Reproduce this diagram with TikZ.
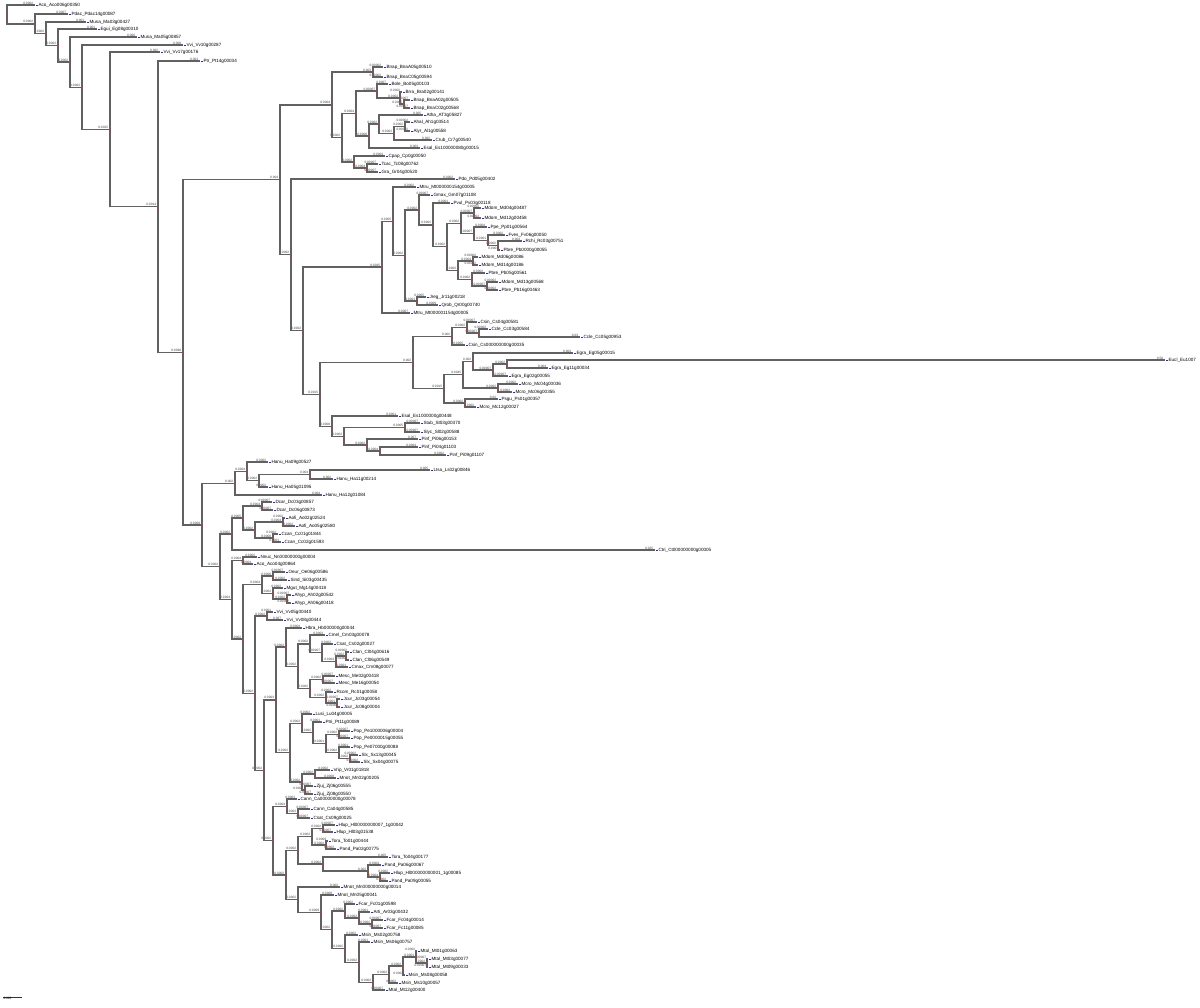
\documentclass[tikz,border=0pt]{standalone}
\usepackage{fontspec}
\setmainfont{Liberation Sans}
\usetikzlibrary{calc}
\definecolor{tipblue}{RGB}{40,40,200}
\definecolor{suppred}{RGB}{215,45,45}

\tikzset{
  twig/.style={draw=black!62, line width=1.25pt},
  leaflab/.style={anchor=west, inner sep=0pt, xshift=0.8pt, font=\fontsize{4.6}{5}\selectfont},
  blen/.style={anchor=south east, inner sep=0.2pt, xshift=-1.5pt, yshift=0.5pt, font=\fontsize{3.2}{3.4}\selectfont, text=black!75},
  scalelab/.style={anchor=north west, inner sep=0.3pt, font=\fontsize{3.2}{3.4}\selectfont},
}

% leaf: name, x, y, branch length, label
\newcommand\leaf[5]{%
  \coordinate (#1) at (#2,#3);
  \node[leaflab] (#1-t) at (#1) {\textcolor{tipblue}{\rule{1.8pt}{1.6pt}}\,#5};
  \node[blen] (#1-l) at (#1) {#4};}
% inner node: name, x, first child, last child, branch length
\newcommand\inode[5]{%
  \coordinate (#1-m) at ($(#3)!.5!(#4)$);
  \coordinate (#1) at (#2,0 |- #1-m);
  \draw[twig] (#3) -| (#1) |- (#4);
  \node[blen] (#1-l) at (#1) {#5};
  \fill[suppred] (#1) ++(-0.5,0.8) rectangle ++(1.2,1.8);}

\begin{document}
\begin{tikzpicture}[x=1pt, y=-1pt]
\useasboundingbox (0,0) rectangle (1200,1008);

% outgroups
\leaf{t1}{35}{5}{0.0002}{Aco\_Aco006g00350}
\leaf{t2}{68}{14}{0.0007}{Pdac\_Pdac14g00087}
\leaf{t3}{86}{22}{0.001}{Musa\_Ma03g00427}
\leaf{t4}{97}{29}{0.001}{Egui\_Eg08g00310}
\leaf{t5}{137}{37}{0.006}{Musa\_Ma05g00857}
\leaf{t6}{183}{45}{0.008}{Vvi\_Vv10g00287}
\leaf{t7}{160}{52}{0.002}{Vvi\_Vv17g00176}
\leaf{t8}{200}{61}{0.003}{Ptr\_Pt14g00034}

% clade 1
\leaf{t9}{383}{67}{0.00002}{Bnap\_BnaA05g00510}
\leaf{t10}{383}{77}{0.00002}{Bnap\_BnaC05g00594}
\leaf{t11}{388}{84}{0.0007}{Bole\_Bo05g00103}
\leaf{t12}{402}{92}{0.0002}{Brra\_Bra02g00141}
\leaf{t13}{410}{100}{0.00007}{Bnap\_BnaA02g00505}
\leaf{t14}{410}{108}{0.00007}{Bnap\_BnaC02g00568}
\leaf{t15}{423}{115}{0.005}{Atha\_AT3g05827}
\leaf{t16}{410}{122}{0.00002}{Ahal\_Ah1g03514}
\leaf{t17}{410}{131}{0.00002}{Alyr\_Al1g00558}
\leaf{t18}{432}{140}{0.002}{Crub\_Cr7g00540}
\leaf{t19}{420}{148}{0.003}{Esal\_Es100000080g00015}
\leaf{t20}{385}{156}{0.0004}{Cpap\_Cp0g00050}
\leaf{t21}{378}{164}{0.00007}{Tcac\_Tc08g00762}
\leaf{t22}{378}{172}{0.00007}{Gra\_Gr04g00520}

% clade 2
\leaf{t23}{455}{179}{0.0002}{Pdo\_Pd05g00402}
\leaf{t24}{416}{187}{0.0002}{Mtru\_Mt000000154g00005}
\leaf{t25}{430}{195}{0.00007}{Gmax\_Gm07g01108}
\leaf{t26}{450}{203}{0.0001}{Pvul\_Pv03g00118}
\leaf{t27}{481}{208}{0.00002}{Mdom\_Md04g00487}
\leaf{t28}{481}{218}{0.00002}{Mdom\_Md12g00458}
\leaf{t29}{487}{227}{0.0004}{Ppe\_Pp01g00564}
\leaf{t30}{505}{235}{0.0002}{Fves\_Fv06g00050}
\leaf{t31}{522}{241}{0.004}{Rchi\_Rc03g00751}
\leaf{t32}{500}{250}{0.0001}{Pbre\_Pb0000g00055}
\leaf{t33}{478}{257}{0.00002}{Mdom\_Md06g00086}
\leaf{t34}{478}{265}{0.00002}{Mdom\_Md14g00186}
\leaf{t35}{485}{273}{0.0002}{Pbre\_Pb05g00561}
\leaf{t36}{498}{282}{0.00002}{Mdom\_Md13g00568}
\leaf{t37}{498}{290}{0.00002}{Pbre\_Pb16g00463}
\leaf{t38}{426}{297}{0.0005}{Jreg\_Jr11g00218}
\leaf{t39}{438}{305}{0.0009}{Qrob\_Qr00g00740}
\leaf{t40}{410}{313}{0.0007}{Mtru\_Mt000001154g00005}
\leaf{t41}{477}{322}{0.00007}{Csin\_Cs04g00581}
\leaf{t42}{488}{329}{0.00002}{Ccle\_Cc03g00584}
\leaf{t43}{580}{337}{0.03}{Ccle\_Cc05g00953}
\leaf{t44}{465}{345}{0.0005}{Csin\_Cs000000000g00035}
\leaf{t45}{573}{353}{0.004}{Egra\_Eg05g00015}
\leaf{t46}{1165}{360}{0.58}{Eucl\_Eu1007}
\leaf{t47}{548}{368}{0.003}{Egra\_Eg11g00034}
\leaf{t48}{508}{376}{0.00007}{Egra\_Eg02g00055}
\leaf{t49}{518}{384}{0.0002}{Mcro\_Mc04g00036}
\leaf{t50}{512}{392}{0.0002}{Mcro\_Mc06g00355}
\leaf{t51}{498}{399}{0.02}{Psgu\_Ps01g00357}
\leaf{t52}{476}{407}{0.0002}{Mcro\_Mc12g00027}
\leaf{t53}{398}{416}{0.0001}{Esal\_Es1000000g00448}
\leaf{t54}{420}{423}{0.00007}{Stub\_St03g00370}
\leaf{t55}{420}{432}{0.00007}{Slyc\_Sl02g00588}
\leaf{t56}{418}{439}{0.007}{Pinf\_Pi06g00153}
\leaf{t57}{418}{447}{0.0004}{Pinf\_Pi04g01103}
\leaf{t58}{446}{455}{0.0002}{Pinf\_Pi09g01107}

% clade 3
\leaf{t59}{268}{462}{0.0002}{Hanu\_Ha09g00527}
\leaf{t60}{430}{470}{0.005}{Ltsa\_Ls02g00846}
\leaf{t61}{333}{479}{0.002}{Hanu\_Ha11g00214}
\leaf{t62}{268}{487}{0.0002}{Hanu\_Ha05g01095}
\leaf{t63}{322}{495}{0.004}{Hanu\_Ha12g01084}
\leaf{t64}{272}{502}{0.00007}{Dcar\_Dc03g00857}
\leaf{t65}{273}{510}{0.00007}{Dcar\_Dc06g00873}
\leaf{t66}{285}{518}{0.0002}{Aofi\_Ao02g02524}
\leaf{t67}{295}{526}{0.0002}{Aofi\_Ao05g02580}
\leaf{t68}{278}{534}{0.0002}{Ccan\_Cc01g01844}
\leaf{t69}{281}{542}{0.0001}{Ccan\_Cc02g01593}
\leaf{t70}{655}{550}{0.025}{Ctri\_Ct000000000g00005}
\leaf{t71}{257}{557}{0.0002}{Nnuc\_Nn00000000g00004}
\leaf{t72}{253}{564}{0.0004}{Aco\_Aco04g00864}
\leaf{t73}{285}{572}{0.00007}{Oeur\_Oe06g00586}
\leaf{t74}{287}{580}{0.0002}{Sind\_Si03g00435}
\leaf{t75}{283}{588}{0.0002}{Mgut\_Mg14g00418}
\leaf{t76}{291}{595}{0.00007}{Ahyp\_Ah02g00542}
\leaf{t77}{291}{603}{0.00007}{Ahyp\_Ah06g00418}
\leaf{t78}{273}{612}{0.0001}{Vvi\_Vv05g00440}
\leaf{t79}{283}{620}{0.007}{Vvi\_Vv08g00444}
\leaf{t80}{302}{628}{0.0004}{Hbra\_Hb000000g00044}
\leaf{t81}{325}{635}{0.0003}{Cmel\_Cm03g00078}
\leaf{t82}{333}{644}{0.0002}{Csat\_Cs02g00027}
\leaf{t83}{349}{652}{0.00002}{Clan\_Cl04g00616}
\leaf{t84}{349}{660}{0.00002}{Clan\_Cl06g00549}
\leaf{t85}{348}{667}{0.0001}{Cmax\_Cm08g00077}
\leaf{t86}{335}{676}{0.00007}{Mesc\_Me02g00418}
\leaf{t87}{335}{683}{0.00007}{Mesc\_Me16g00054}
\leaf{t88}{333}{692}{0.0002}{Rcom\_Rc01g00058}
\leaf{t89}{340}{699}{0.00007}{Jcur\_Jc03g00054}
\leaf{t90}{340}{707}{0.00007}{Jcur\_Jc08g00004}
\leaf{t91}{312}{714}{0.0002}{Lusi\_Lu04g00005}
\leaf{t92}{322}{722}{0.0001}{Ptri\_Pt11g00089}
\leaf{t93}{350}{731}{0.00007}{Pop\_Pe1000006g00004}
\leaf{t94}{350}{738}{0.00007}{Pop\_Pe0000015g00055}
\leaf{t95}{350}{747}{0.0001}{Pop\_Pe07000g00088}
\leaf{t96}{358}{755}{0.00002}{Slx\_Sx13g00045}
\leaf{t97}{360}{762}{0.00002}{Slx\_Sx04g00075}
\leaf{t98}{330}{770}{0.0002}{Vrip\_Vr01g01818}
\leaf{t99}{336}{778}{0.0008}{Mnot\_Mn02g00205}
\leaf{t100}{313}{786}{0.00007}{Zjuj\_Zj06g00555}
\leaf{t101}{313}{794}{0.00007}{Zjuj\_Zj08g00550}
\leaf{t102}{297}{799}{0.0001}{Cann\_Ca00000000g00078}
\leaf{t103}{310}{809}{0.00007}{Cann\_Ca04g00585}
\leaf{t104}{310}{818}{0.00007}{Csat\_Cs09g00025}
\leaf{t105}{335}{825}{0.00007}{Hlup\_Hl00000000007\_1g00042}
\leaf{t106}{333}{832}{0.00007}{Hlup\_Hl03g01538}
\leaf{t107}{328}{841}{0.0009}{Tora\_To01g00444}
\leaf{t108}{336}{849}{0.0002}{Pand\_Pa02g00775}
\leaf{t109}{388}{857}{0.005}{Tora\_To04g00177}
\leaf{t110}{381}{865}{0.0004}{Pand\_Pa06g00067}
\leaf{t111}{390}{873}{0.0002}{Hlup\_Hl000000000001\_1g00085}
\leaf{t112}{388}{881}{0.0002}{Pand\_Pa09g00055}
\leaf{t113}{340}{887}{0.002}{Mnot\_Mn000000000g00014}
\leaf{t114}{334}{895}{0.0008}{Mnot\_Mn05g00041}
\leaf{t115}{355}{904}{0.0002}{Fcar\_Fc01g00598}
\leaf{t116}{370}{912}{0.0001}{Arti\_Ar03g00432}
\leaf{t117}{383}{920}{0.00007}{Fcar\_Fc04g00014}
\leaf{t118}{383}{928}{0.00007}{Fcar\_Fc11g00085}
\leaf{t119}{358}{935}{0.0002}{Msin\_Ms02g00758}
\leaf{t120}{370}{942}{0.0001}{Msin\_Ms06g00757}
\leaf{t121}{417}{951}{0.0002}{Mtal\_Mt01g00063}
\leaf{t122}{428}{959}{0.00007}{Mtal\_Mt03g00077}
\leaf{t123}{428}{967}{0.00007}{Mtal\_Mt09g00033}
\leaf{t124}{405}{975}{0.0002}{Msin\_Ms08g00058}
\leaf{t125}{398}{983}{0.0002}{Msin\_Ms10g00057}
\leaf{t126}{385}{990}{0.00007}{Mtal\_Mt12g00400}

% clade 1 nodes
\inode{n16}{404}{t13}{t14}{0.0005}
\inode{n15}{400}{t12}{n16}{0.0002}
\inode{n14}{377}{t11}{n15}{0.00007}
\inode{n21}{405}{t16}{t17}{0.0002}
\inode{n20}{394}{n21}{t18}{0.0002}
\inode{n19}{379}{t15}{n20}{0.0002}
\inode{n18}{369}{n19}{t19}{0.0008}
\inode{n13}{356}{n14}{n18}{0.0004}
\inode{n23}{367}{t21}{t22}{0.0004}
\inode{n22}{354}{t20}{n23}{0.0002}
\inode{n12}{342}{n13}{n22}{0.0002}
\inode{n11}{373}{t9}{t10}{0.003}
\inode{n10}{332}{n11}{n12}{0.0004}

% clade 2 nodes
\inode{nc}{474}{t27}{t28}{0.00007}
\inode{nz}{498}{t31}{t32}{0.0002}
\inode{na}{488}{t30}{nz}{0.0001}
\inode{nb}{474}{t29}{na}{0.00007}
\inode{ne}{461}{nc}{nb}{0.0002}
\inode{ny}{473}{t33}{t34}{0.0004}
\inode{nw}{487}{t36}{t37}{0.00007}
\inode{nx}{472}{t35}{nw}{0.0002}
\inode{nd}{458}{ny}{nx}{0.0002}
\inode{nf}{447}{ne}{nd}{0.0002}
\inode{ng}{433}{t26}{nf}{0.0002}
\inode{ni}{419}{t25}{ng}{0.0002}
\inode{nh}{417}{t38}{t39}{0.0001}
\inode{nj}{405}{ni}{nh}{0.0002}
\inode{nk}{393}{t24}{nj}{0.0005}
\inode{n26}{382}{nk}{t40}{0.0035}
\inode{n34}{479}{t42}{t43}{0.00007}
\inode{n33}{467}{t41}{n34}{0.0002}
\inode{n31}{452}{n33}{t44}{0.002}
\inode{n41}{507}{t46}{t47}{0.0002}
\inode{n40}{493}{n41}{t48}{0.00007}
\inode{n38}{473}{t45}{n40}{0.002}
\inode{n39}{498}{t49}{t50}{0.0002}
\inode{n36}{463}{n38}{n39}{0.0045}
\inode{n37}{465}{t51}{t52}{0.0002}
\inode{n35}{444}{n36}{n37}{0.0015}
\inode{n30}{413}{n31}{n35}{0.002}
\inode{n45}{405}{t54}{t55}{0.0005}
\inode{n47}{380}{t57}{t58}{0.0004}
\inode{n46}{367}{t56}{n47}{0.0002}
\inode{n44}{344}{n45}{n46}{0.0002}
\inode{n42}{332}{t53}{n44}{0.0008}
\inode{n27}{320}{n30}{n42}{0.0015}
\inode{n25}{303}{n26}{n27}{0.0002}
\inode{n24}{291}{t23}{n25}{0.0002}
\inode{n9}{280}{n10}{n24}{0.004}

% clade 3 nodes
\inode{nF}{310}{t60}{t61}{0.004}
\inode{nE}{259}{nF}{t62}{0.0002}
\inode{nD}{247}{t59}{nE}{0.0004}
\inode{nC}{235}{nD}{t63}{0.002}
\inode{nJ}{262}{t64}{t65}{0.0004}
\inode{nL}{283}{t66}{t67}{0.0004}
\inode{nM}{273}{t68}{t69}{0.0008}
\inode{nK}{255}{nL}{nM}{0.0002}
\inode{nI}{243}{nJ}{nK}{0.0005}
\inode{nH}{232}{nI}{t70}{0.0002}
\inode{nO}{243}{t71}{t72}{0.0004}
\inode{nS}{273}{t73}{t74}{0.0008}
\inode{nU}{287}{t76}{t77}{0.0002}
\inode{nT}{273}{t75}{nU}{0.0002}
\inode{nQ}{262}{nS}{nT}{0.0004}
\inode{nV}{267}{t78}{t79}{0.0002}
\inode{nAH}{346}{t83}{t84}{0.0002}
\inode{nAF}{336}{nAH}{t85}{0.0004}
\inode{nAE}{322}{t82}{nAF}{0.00007}
\inode{nAC}{310}{t81}{nAE}{0.0002}
\inode{nAI}{323}{t86}{t87}{0.0002}
\inode{nAK}{337}{t89}{t90}{0.0001}
\inode{nAJ}{326}{t88}{nAK}{0.0002}
\inode{nAD}{310}{nAI}{nAJ}{0.0002}
\inode{nAB}{298}{nAC}{nAD}{0.0002}
\inode{nZ}{286}{t80}{nAB}{0.0002}
\inode{nAQ}{339}{t93}{t94}{0.0002}
\inode{nAS}{350}{t96}{t97}{0.0002}
\inode{nAR}{339}{t95}{nAS}{0.0002}
\inode{nAO}{326}{nAQ}{nAR}{0.0001}
\inode{nAN}{313}{t92}{nAO}{0.0002}
\inode{nAL}{302}{t91}{nAN}{0.0002}
\inode{nAT}{315}{t98}{t99}{0.0002}
\inode{nAU}{305}{t100}{t101}{0.0002}
\inode{nAM}{302}{nAT}{nAU}{0.0002}
\inode{nAA}{290}{nAL}{nAM}{0.0002}
\inode{nX}{276}{nZ}{nAA}{0.0003}
\inode{nAX}{298}{t103}{t104}{0.0002}
\inode{nAV}{287}{t102}{nAX}{0.0004}
\inode{nBC}{323}{t105}{t106}{0.0002}
\inode{nBD}{326}{t107}{t108}{0.0002}
\inode{nBA}{312}{nBC}{nBD}{0.0002}
\inode{nBF}{380}{t111}{t112}{0.0004}
\inode{nBE}{368}{t110}{nBF}{0.002}
\inode{nBB}{323}{t109}{nBE}{0.0002}
\inode{nAY}{298}{nBA}{nBB}{0.0002}
\inode{nBL}{372}{t117}{t118}{0.0002}
\inode{nBK}{359}{t116}{nBL}{0.0002}
\inode{nBI}{345}{t115}{nBK}{0.0002}
\inode{nBR}{427}{t122}{t123}{0.0002}
\inode{nBQ}{416}{t121}{nBR}{0.0001}
\inode{nBP}{403}{nBQ}{t124}{0.0002}
\inode{nBO}{389}{nBP}{t125}{0.0002}
\inode{nBN}{373}{nBO}{t126}{0.0002}
\inode{nBM}{359}{t120}{nBN}{0.0002}
\inode{nBJ}{345}{t119}{nBM}{0.0002}
\inode{nBH}{332}{nBI}{nBJ}{0.0002}
\inode{nBG}{321}{t114}{nBH}{0.0009}
\inode{nAZ}{298}{t113}{nBG}{0.0002}
\inode{nAW}{286}{nAY}{nAZ}{0.0002}
\inode{nY}{273}{nAV}{nAW}{0.0002}
\inode{nW}{264}{nX}{nY}{0.0002}
\inode{nR}{255}{nV}{nW}{0.0002}
\inode{nP}{243}{nQ}{nR}{0.0002}
\inode{nN}{232}{nO}{nP}{0.0004}
\inode{nG}{220}{nH}{nN}{0.0002}
\inode{nB}{202}{nC}{nG}{0.0008}

% backbone
\inode{n8}{183}{n9}{nB}{0.0098}
\inode{n7}{158}{t8}{n8}{0.0014}
\inode{n6}{110}{t7}{n7}{0.0025}
\inode{n5}{82}{t6}{n6}{0.0002}
\inode{n4}{70}{t5}{n5}{0.0002}
\inode{n3}{58}{t4}{n4}{0.0002}
\inode{n2}{46}{t3}{n3}{0.0002}
\inode{n1}{35}{t2}{n2}{0.0002}
\inode{n0}{7}{t1}{n1}{}

% scale bar
\coordinate (sb0) at (3,997);
\coordinate (sb1) at (22,997);
\draw[black!80, line width=0.5pt] (sb0) -- (sb1);
\node[scalelab] (sbl) at (sb0) {0.005};
\end{tikzpicture}
\end{document}
